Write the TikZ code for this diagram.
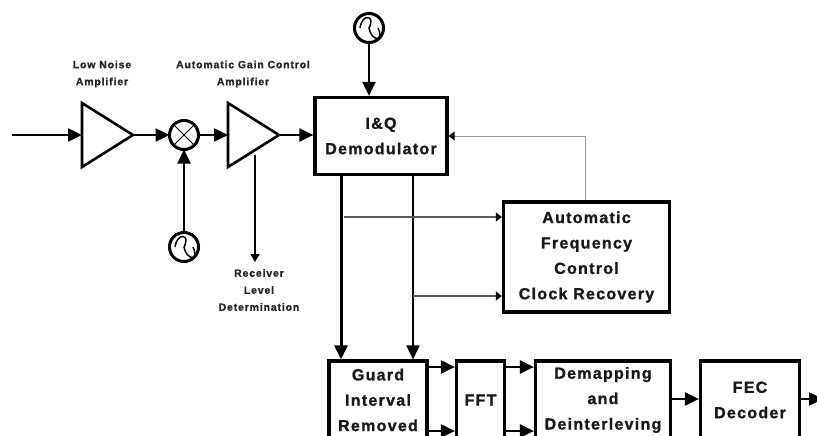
\documentclass[tikz,border=0pt]{standalone}
\usepackage{fontspec}
\setmainfont[LetterSpace=8,BoldFeatures={FakeBold=1.2}]{Liberation Sans}
\usetikzlibrary{arrows.meta,shapes.geometric}
\tikzset{
	block/.style={draw,line width=3.2pt,minimum width=#1,inner sep=0pt,align=center,text=black!90,font=\fontsize{16}{25.4}\selectfont\bfseries},
	tag/.style={align=center,inner sep=0pt,text=black!85,font=\fontsize{10.5}{17}\selectfont\bfseries},
	amp/.style={draw,line width=2.6pt,isosceles triangle,isosceles triangle stretches,minimum width=64pt,minimum height=51pt,inner sep=0pt,outer sep=0pt,anchor=lower side},
	round/.style={draw,circle,line width=3pt,minimum size=29pt,inner sep=0pt,outer sep=0pt},
	sig/.style={line width=2.4pt,-{Triangle[length=14pt,width=13pt]}},
	rail/.style={line width=1.5pt,black!65,-{Triangle[length=6pt,width=9pt,color=black]}}
}
\newcommand{\wave}[1]{\draw[line width=1.5pt] ([xshift=-9pt]#1.center) .. controls +(2,-15) and +(7,-13) .. (#1.center) .. controls +(2,13) and +(7,15) .. ([xshift=9pt]#1.center);}
\begin{document}
\begin{tikzpicture}[x=1pt,y=-1pt]
	\clip (0,0) rectangle (817,436);
	% front end
	\coordinate (in) at (12,135);
	\node[amp] (lna) at (82,135) {};
	\node[round] (mix) at (184,135) {};
	\node[amp] (agc) at (228,135) {};
	\node[round] (loa) at (184,247) {};
	\node[round] (lob) at (369,28) {};
	\node[block=132pt,minimum height=77pt] (demod) at (381,136) {I\&Q\\Demodulator};
	\node[block=166pt,minimum height=110pt] (afc) at (586.5,257) {Automatic\\Frequency\\Control\\Clock Recovery};
	% bottom row, cut by the page
	\node[block=98pt,minimum height=78pt] (guard) at (378,400) {Guard\\Interval\\Removed};
	\node[block=48pt,minimum height=78pt] (fft) at (480.5,400) {FFT};
	\node[block=135pt,minimum height=78pt] (demap) at (603,400) {Demapping\\and\\Deinterleving};
	\node[block=99pt,minimum height=78pt] (fec) at (750,400) {FEC\\Decoder};
	\coordinate (out) at (823,399);
	% labels
	\node[tag] (lnatag) at (102,74) {Low Noise\\Amplifier};
	\node[tag] (agctag) at (243,74) {Automatic Gain Control\\Amplifier};
	\node[tag] (rxtag) at (259,290) {Receiver\\Level\\Determination};
	% mixer cross and sines
	\draw[line width=1pt] (mix.45) -- (mix.225);
	\draw[line width=1pt] (mix.135) -- (mix.315);
	\wave{loa}
	\wave{lob}
	% signal path
	\draw[sig] (in) -- (lna.lower side);
	\draw[sig] (lna.apex) -- (mix);
	\draw[sig] (mix) -- (agc.lower side);
	\draw[sig] (agc.apex) -- (demod.west |- agc.apex);
	\draw[sig] (loa) -- (mix);
	\draw[sig] (lob) -- (demod.north -| lob);
	\draw[line width=1.3pt,-{Triangle[length=8pt,width=9pt]}] (255,155) coordinate (rxa) -- (255,262) coordinate (rxb);
	% demodulator outputs
	\coordinate (ta) at (341,300);
	\coordinate (tb) at (413,300);
	\draw[sig,line width=3pt] (demod.south -| ta) -- (guard.north -| ta);
	\draw[sig,line width=1.9pt] (demod.south -| tb) -- (guard.north -| tb);
	\coordinate (fa) at (344,217);
	\coordinate (fb) at (413,296);
	\draw[rail] (fa) -- (afc.west |- fa);
	\draw[rail] (fb) -- (afc.west |- fb);
	\coordinate (fc) at (585,136);
	\draw[line width=.8pt,black!40] (afc.north -| fc) -- (fc);
	\draw[rail,line width=.8pt,black!40] (fc) -- (demod.east |- fc);
	% bottom row links
	\foreach \ya/\from/\to in {367/guard/fft,431/guard/fft,367/fft/demap,431/fft/demap}{
		\coordinate (p) at (0,\ya);
		\draw[sig] (\from.east |- p) -- (\to.west |- p);
	}
	\draw[sig] (demap.east |- out) -- (fec.west |- out);
	\draw[sig] (fec.east |- out) -- (out);
\end{tikzpicture}
\end{document}
